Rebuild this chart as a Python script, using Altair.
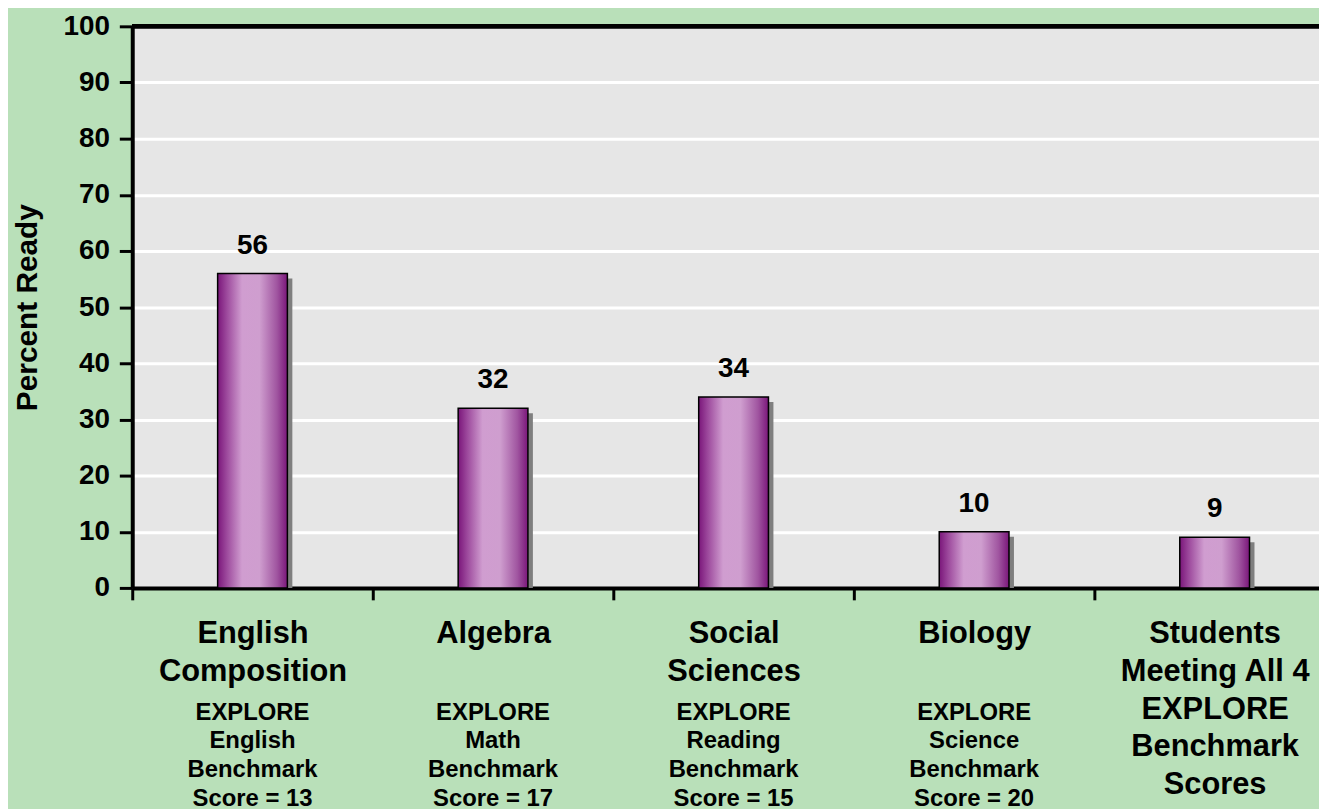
import json
import altair as alt
import pandas as pd

# ---- data ----
categories = ["English Composition", "Algebra", "Social Sciences", "Biology", "All Four"]
values = [56, 32, 34, 10, 9]
main_labels = [
    ["English", "Composition"],
    ["Algebra"],
    ["Social", "Sciences"],
    ["Biology"],
    ["Students", "Meeting All 4", "EXPLORE", "Benchmark", "Scores"],
]
sub_labels = [
    ["EXPLORE", "English", "Benchmark", "Score = 13"],
    ["EXPLORE", "Math", "Benchmark", "Score = 17"],
    ["EXPLORE", "Reading", "Benchmark", "Score = 15"],
    ["EXPLORE", "Science", "Benchmark", "Score = 20"],
    [""],
]
y_ticks = [0, 10, 20, 30, 40, 50, 60, 70, 80, 90, 100]
y_max = 100
y_title = "Percent Ready"

df = pd.DataFrame({"cat": categories, "val": values})

main_map = {c: "|".join(l) for c, l in zip(categories, main_labels)}
sub_map = {c: "|".join(l) for c, l in zip(categories, sub_labels)}
main_expr = f"isValid(datum.value) ? split({json.dumps(main_map)}[datum.value], '|') : ''"
sub_expr = f"isValid(datum.value) ? split({json.dumps(sub_map)}[datum.value], '|') : ''"

FONT = "Liberation Sans"
W, H = 1210, 565

xscale = alt.Scale(paddingInner=0, paddingOuter=0)

x_main = alt.X(
    "cat:N", sort=categories, scale=xscale, title=None,
    axis=alt.Axis(
        orient="bottom",
        labelExpr=main_expr, labelFont=FONT, labelFontSize=31, labelFontWeight="bold",
        labelColor="black", labelLineHeight=38, labelPadding=19, labelAngle=0,
        labelAlign="center", labelBaseline="top", labelLimit=500, labelOverlap=False,
        tickSize=12, tickWidth=3, tickColor="black", tickBand="extent",
        domainColor="black", domainWidth=4, grid=False,
    ),
)
x_sub = alt.X(
    "cat:N", sort=categories, scale=xscale, title=None,
    axis=alt.Axis(
        orient="bottom",
        labelExpr=sub_expr, labelFont=FONT, labelFontSize=24, labelFontWeight="bold",
        labelColor="black", labelLineHeight=29, labelPadding=113, labelAngle=0,
        labelAlign="center", labelBaseline="top", labelLimit=500, labelOverlap=False,
        ticks=False, domain=False, grid=False,
    ),
)
x_none = alt.X("cat:N", sort=categories, scale=xscale, title=None, axis=None)

yscale = alt.Scale(domain=[0, 100], nice=False)
yaxis_def = alt.Axis(
    values=y_ticks, labelFont=FONT, labelFontSize=28, labelFontWeight="bold",
    labelColor="black", labelPadding=10, tickSize=13, tickWidth=3, tickColor="black",
    domainColor="black", domainWidth=4, grid=True, gridColor="white", gridWidth=3,
    titleFont=FONT, titleFontSize=30, titleFontWeight="bold", titleColor="black",
    titleAngle=270, titleX=-105, titleY=H / 2, titleAlign="center", titleBaseline="middle",
)
y_axis = alt.Y("val:Q", scale=yscale, title=y_title, axis=yaxis_def)

base = alt.Chart(df)
BAR_W = alt.RelativeBandSize(0.29)

shadow = base.mark_bar(color="#7f7f7f", xOffset=5, yOffset=5, clip=True, width=BAR_W).encode(
    x=x_none, y=y_axis
)

grad = alt.Gradient(
    gradient="linear", x1=0, x2=1, y1=0, y2=0,
    stops=[
        alt.GradientStop(offset=0, color="#7a167a"),
        alt.GradientStop(offset=0.12, color="#9a459a"),
        alt.GradientStop(offset=0.35, color="#d09dd0"),
        alt.GradientStop(offset=0.6, color="#cf9ecf"),
        alt.GradientStop(offset=0.85, color="#a055a0"),
        alt.GradientStop(offset=1, color="#7a167a"),
    ],
)
bars = base.mark_bar(color=grad, stroke="black", strokeWidth=1.5, width=BAR_W).encode(
    x=x_main, y=y_axis
)

labels = base.mark_text(
    font=FONT, fontSize=28, fontWeight="bold", color="black", dy=-20, baseline="alphabetic"
).encode(x=x_sub, y=y_axis, text="val:Q")

top_border = alt.Chart(df).mark_rule(color="black", strokeWidth=4).encode(
    y=alt.Y(datum=y_max, scale=yscale, title=y_title, axis=yaxis_def)
)

chart = (
    alt.layer(shadow, bars, labels, top_border)
    .resolve_axis(x="independent", y="shared")
    .properties(
        width=W, height=H,
        padding={"left": 125, "top": 16, "right": -16, "bottom": 220},
        autosize=alt.AutoSizeParams(type="none"),
        background="#b9e0b9",
    )
    .configure_view(fill="#e6e6e6", strokeWidth=0)
)

chart.save("out.html", embed_options={"renderer": "svg", "actions": False})
